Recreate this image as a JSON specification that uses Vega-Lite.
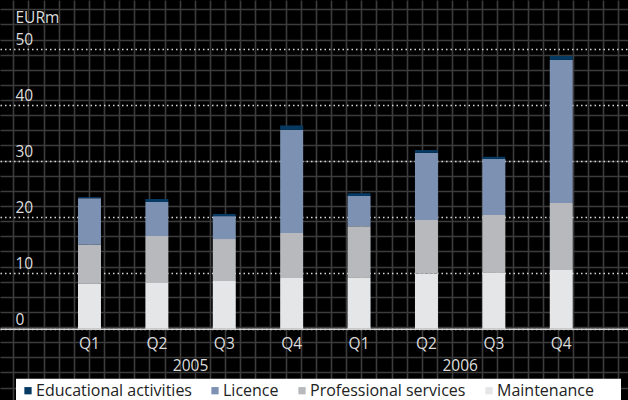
{
  "$schema": "https://vega.github.io/schema/vega-lite/v6.json",
  "width": 628,
  "height": 400,
  "autosize": {"type": "none"},
  "padding": 0,
  "background": "#000000",
  "config": {"view": {"stroke": null}, "font": "Open Sans"},
  "datasets": {
    "revenue": [
      {"period": "2005 Q1", "series": "Maintenance", "value": 8.0},
      {"period": "2005 Q1", "series": "Professional services", "value": 7.0},
      {"period": "2005 Q1", "series": "Licence", "value": 8.3},
      {"period": "2005 Q1", "series": "Educational activities", "value": 0.2},
      {"period": "2005 Q2", "series": "Maintenance", "value": 8.3},
      {"period": "2005 Q2", "series": "Professional services", "value": 8.25},
      {"period": "2005 Q2", "series": "Licence", "value": 6.1},
      {"period": "2005 Q2", "series": "Educational activities", "value": 0.5},
      {"period": "2005 Q3", "series": "Maintenance", "value": 8.5},
      {"period": "2005 Q3", "series": "Professional services", "value": 7.5},
      {"period": "2005 Q3", "series": "Licence", "value": 4.1},
      {"period": "2005 Q3", "series": "Educational activities", "value": 0.4},
      {"period": "2005 Q4", "series": "Maintenance", "value": 9.05},
      {"period": "2005 Q4", "series": "Professional services", "value": 8.05},
      {"period": "2005 Q4", "series": "Licence", "value": 18.4},
      {"period": "2005 Q4", "series": "Educational activities", "value": 0.8},
      {"period": "2006 Q1", "series": "Maintenance", "value": 9.2},
      {"period": "2006 Q1", "series": "Professional services", "value": 9.1},
      {"period": "2006 Q1", "series": "Licence", "value": 5.4},
      {"period": "2006 Q1", "series": "Educational activities", "value": 0.5},
      {"period": "2006 Q2", "series": "Maintenance", "value": 9.8},
      {"period": "2006 Q2", "series": "Professional services", "value": 9.6},
      {"period": "2006 Q2", "series": "Licence", "value": 12.0},
      {"period": "2006 Q2", "series": "Educational activities", "value": 0.5},
      {"period": "2006 Q3", "series": "Maintenance", "value": 10.1},
      {"period": "2006 Q3", "series": "Professional services", "value": 10.2},
      {"period": "2006 Q3", "series": "Licence", "value": 10.0},
      {"period": "2006 Q3", "series": "Educational activities", "value": 0.4},
      {"period": "2006 Q4", "series": "Maintenance", "value": 10.5},
      {"period": "2006 Q4", "series": "Professional services", "value": 11.95},
      {"period": "2006 Q4", "series": "Licence", "value": 25.55},
      {"period": "2006 Q4", "series": "Educational activities", "value": 0.7}
    ],
    "years": [{"year": "2005"}, {"year": "2006"}]
  },
  "layer": [
    {
      "data": {"name": "years"},
      "mark": {"type": "point", "opacity": 0},
      "encoding": {
        "x": {
          "datum": 0, "type": "quantitative",
          "scale": {"domain": [-0.879, 40.63], "nice": false, "zero": false},
          "axis": {"orient": "bottom", "values": [0,1,2,3,4,5,6,7,8,9,10,11,12,13,14,15,16,17,18,19,20,21,22,23,24,25,26,27,28,29,30,31,32,33,34,35,36,37,38,39,40],
            "grid": true, "gridColor": "#3c3c3c", "gridWidth": 1.6, "labels": false, "ticks": false, "domain": false, "title": null}
        },
        "y": {
          "datum": 0, "type": "quantitative",
          "scale": {"domain": [-0.615, 25.82], "nice": false, "zero": false, "reverse": true},
          "axis": {"orient": "left", "values": [0,1,2,3,4,5,6,7,8,9,10,11,12,13,14,15,16,17,18,19,20,21,22,23,24,25],
            "grid": true, "gridColor": "#3c3c3c", "gridWidth": 1.6, "labels": false, "ticks": false, "domain": false, "title": null}
        }
      }
    },
    {
      "data": {"name": "revenue"},
      "transform": [
        {"calculate": "indexof(['Maintenance', 'Professional services', 'Licence', 'Educational activities'], datum.series)", "as": "stackOrder"}
      ],
      "mark": {"type": "bar", "width": {"band": 0.341}},
      "encoding": {
        "x": {
          "field": "period", "type": "nominal", "sort": null,
          "scale": {"paddingInner": 0, "paddingOuter": 0.659, "align": 0.628},
          "axis": {"orient": "bottom", "offset": -71.3, "title": null, "labelExpr": "split(datum.label, ' ')[1]",
            "labelAngle": 0, "ticks": false, "labelPadding": 19.5, "labelBaseline": "alphabetic",
            "labelFontSize": 15.5, "labelColor": "#dcdcdc", "labelFont": "Open Sans",
            "domain": true, "domainColor": "#d0d0d0", "domainWidth": 1.5, "grid": false}
        },
        "y": {
          "field": "value", "type": "quantitative", "stack": "zero",
          "scale": {"domain": [-12.73, 58.7], "nice": false, "zero": false},
          "axis": {"orient": "left", "offset": -15, "values": [0, 10, 20, 30, 40, 50],
            "ticks": false, "domain": false, "labelPadding": 0, "labelAlign": "left", "labelBaseline": "alphabetic",
            "labelOffset": -4.5, "labelFontSize": 15.5, "labelColor": "#dcdcdc", "labelFont": "Open Sans",
            "grid": true, "gridColor": "#d8d8d8", "gridDash": [1.5, 3], "gridWidth": 1.5,
            "title": "EURm", "titleAngle": 0, "titleAlign": "left", "titleBaseline": "alphabetic",
            "titleX": 0, "titleY": 22.5, "titleFontSize": 15.5, "titleFontWeight": "normal", "titleColor": "#dcdcdc", "titleFont": "Open Sans"}
        },
        "order": {"field": "stackOrder", "type": "quantitative", "sort": "ascending"},
        "color": {
          "field": "series", "type": "nominal",
          "scale": {
            "domain": ["Educational activities", "Licence", "Professional services", "Maintenance"],
            "range": ["#073a63", "#7d92b2", "#b8b9bc", "#e5e6e8"]
          },
          "legend": {
            "orient": "none", "legendX": 16, "legendY": 378.7, "direction": "horizontal",
            "title": " ", "titleOrient": "right", "titlePadding": 23, "titleFontSize": 10,
            "fillColor": "#ffffff", "padding": 4,
            "symbolType": "square", "symbolSize": 53, "symbolStrokeWidth": 0, "symbolOpacity": 1,
            "labelFontSize": 16, "labelColor": "#222222", "labelFont": "Open Sans", "labelOffset": 0,
            "columnPadding": 15, "labelLimit": 300
          }
        }
      }
    },
    {
      "data": {"name": "years"},
      "mark": {"type": "rule", "opacity": 0},
      "encoding": {
        "x": {
          "field": "year", "type": "nominal",
          "scale": {"paddingInner": 0, "paddingOuter": 0.1647, "align": 0.628},
          "axis": {"orient": "bottom", "offset": -71.3, "title": null, "labelAngle": 0, "ticks": false,
            "labelPadding": 42, "labelBaseline": "alphabetic", "labelFontSize": 15.5, "labelColor": "#dcdcdc",
            "labelFont": "Open Sans", "domain": false, "grid": false}
        }
      }
    }
  ],
  "resolve": {
    "scale": {"x": "independent", "y": "independent", "color": "independent"},
    "axis": {"x": "independent", "y": "independent"}
  }
}
